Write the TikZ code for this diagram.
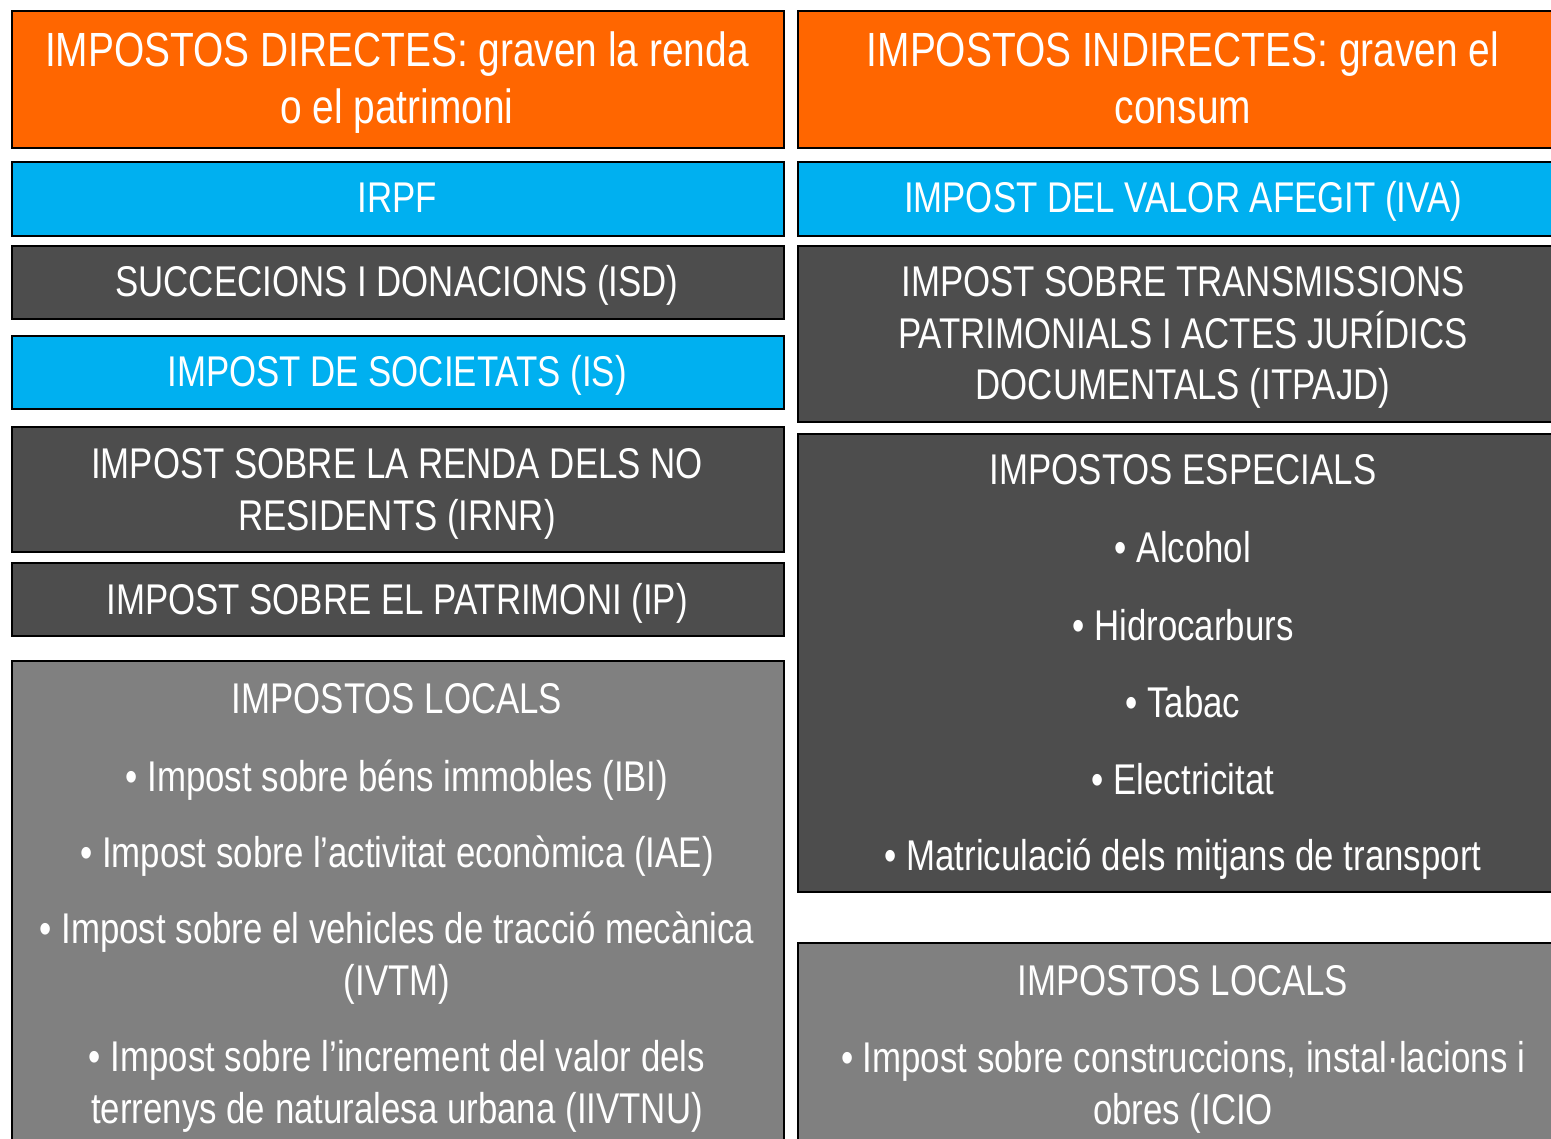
\documentclass[tikz,border=0pt]{standalone}
\usepackage{fontspec}
\setmainfont{Liberation Sans}[FakeStretch=0.81]
\definecolor{orng}{HTML}{FF6600}
\definecolor{blu}{HTML}{00B0F0}
\definecolor{dgray}{HTML}{4D4D4D}
\definecolor{mgray}{HTML}{808080}
\begin{document}
\begin{tikzpicture}[x=1pt,y=-1pt,
  box/.style={draw=black,line width=2pt,anchor=north west,inner sep=0pt,minimum width=772pt},
  txt/.style={text=white,inner sep=0pt,anchor=base,align=center,font=\fontsize{43}{51.5}\selectfont},
  ttl/.style={text=white,inner sep=0pt,anchor=base,align=center,font=\fontsize{48}{57}\selectfont}]
\useasboundingbox (0,0) rectangle (1551,1139);
\clip (0,0) rectangle (1551,1139);
% left column
\node[box,fill=orng,minimum height=137pt] (lo) at (11,10) {};
\node[box,fill=blu,minimum height=74pt] (lirpf) at (11,161) {};
\node[box,fill=dgray,minimum height=73pt] (lisd) at (11,245) {};
\node[box,fill=blu,minimum height=73pt] (lis) at (11,335) {};
\node[box,fill=dgray,minimum height=125pt] (lirnr) at (11,426) {};
\node[box,fill=dgray,minimum height=73pt] (lip) at (11,562) {};
\node[box,fill=mgray,minimum height=560pt] (lloc) at (11,660) {};
% right column
\node[box,fill=orng,minimum height=137pt] (ro) at (797,10) {};
\node[box,fill=blu,minimum height=74pt] (riva) at (797,161) {};
\node[box,fill=dgray,minimum height=176pt] (ritp) at (797,245) {};
\node[box,fill=dgray,minimum height=458pt] (resp) at (797,433) {};
\node[box,fill=mgray,minimum height=300pt] (rloc) at (797,942) {};
% left texts (multi-line nodes anchored at the baseline of their last line)
\node[ttl] (t1) at (397,124) {IMPOSTOS DIRECTES: graven la renda\\o el patrimoni};
\node[txt] (t2) at (397,213) {IRPF};
\node[txt] (t3) at (397,297) {SUCCECIONS I DONACIONS (ISD)};
\node[txt] (t4) at (397,387) {IMPOST DE SOCIETATS (IS)};
\node[txt] (t5) at (397,530) {IMPOST SOBRE LA RENDA DELS NO\\RESIDENTS (IRNR)};
\node[txt] (t6) at (397,614) {IMPOST SOBRE EL PATRIMONI (IP)};
\node[txt] (t7) at (397,713) {IMPOSTOS LOCALS};
\node[txt] (t8) at (397,791) {• Impost sobre béns immobles (IBI)};
\node[txt] (t9) at (397,867) {• Impost sobre l’activitat econòmica (IAE)};
\node[txt] (t10) at (397,995) {• Impost sobre el vehicles de tracció mecànica\\(IVTM)};
\node[txt] (t11) at (397,1123) {• Impost sobre l’increment del valor dels\\terrenys de naturalesa urbana (IIVTNU)};
% right texts
\node[ttl] (u1) at (1183,124) {IMPOSTOS INDIRECTES: graven el\\consum};
\node[txt] (u2) at (1183,213) {IMPOST DEL VALOR AFEGIT (IVA)};
\node[txt] (u3) at (1183,400) {IMPOST SOBRE TRANSMISSIONS\\PATRIMONIALS I ACTES JURÍDICS\\DOCUMENTALS (ITPAJD)};
\node[txt] (u4) at (1183,485) {IMPOSTOS ESPECIALS};
\node[txt] (u5) at (1183,562) {• Alcohol};
\node[txt] (u6) at (1183,640) {• Hidrocarburs};
\node[txt] (u7) at (1183,717) {• Tabac};
\node[txt] (u8) at (1183,794) {• Electricitat};
\node[txt] (u9) at (1183,870) {• Matriculació dels mitjans de transport};
\node[txt] (u10) at (1183,995) {IMPOSTOS LOCALS};
\node[txt] (u11) at (1183,1124) {• Impost sobre construccions, instal·lacions i\\obres (ICIO};
\end{tikzpicture}
\end{document}
